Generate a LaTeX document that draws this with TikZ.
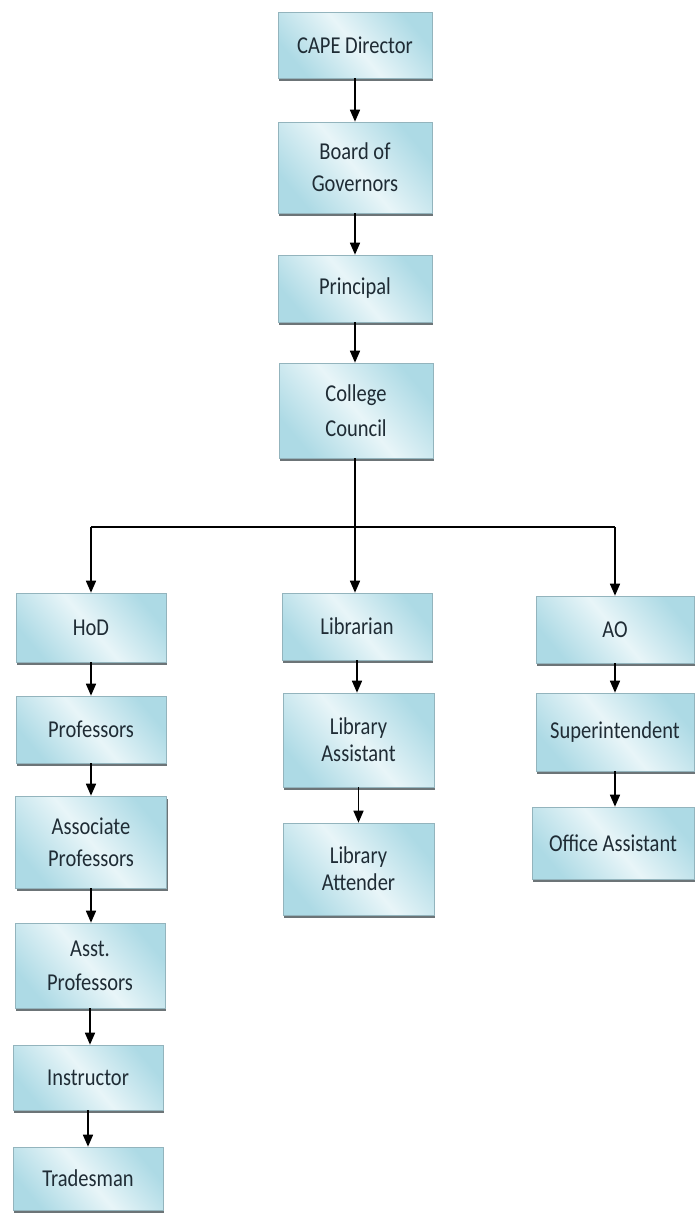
\documentclass[tikz,border=0pt]{standalone}
\usepackage{fontspec}
\setmainfont{Carlito}
\usetikzlibrary{arrows.meta,shadows}
\definecolor{cA}{HTML}{ADDAE5}
\definecolor{cB}{HTML}{E8F5F8}
\definecolor{cEdge}{HTML}{93B4BD}
\definecolor{cShadow}{HTML}{6C7477}
\definecolor{cText}{HTML}{1F2C35}
\pgfdeclareverticalshading{boxshade}{100bp}{color(0bp)=(cA); color(25bp)=(cA); color(50bp)=(cB); color(75bp)=(cA); color(100bp)=(cA)}
\newcommand{\tl}[1]{\scalebox{1}[1.18]{#1}}
\tikzset{
  orgbox/.style={draw=cEdge, line width=0.6pt, shading=boxshade, shading angle=-50,
    minimum width=#1, inner sep=0pt, text=cText, align=center,
    font=\fontsize{20.5}{32}\selectfont,
    drop shadow={shadow xshift=1pt, shadow yshift=-3pt, fill=cShadow, opacity=1}},
  orgbox/.default=150pt,
  link/.style={line width=1.6pt, black, -{Triangle[length=12pt,width=10pt]}},
  trunk/.style={line width=1.6pt, black}
}
\begin{document}
\begin{tikzpicture}[x=1pt,y=1pt]
\useasboundingbox (0,0) rectangle (696,-1213);
% top chain
\node[orgbox=154pt, minimum height=66pt] (cape) at (355,-45) {\tl{CAPE Director}};
\node[orgbox=154pt, minimum height=91pt] (bog) at (355,-167.5) {\tl{Board of}\\\tl{Governors}};
\node[orgbox=154pt, minimum height=67pt] (prin) at (355,-288.5) {\tl{Principal}};
\node[orgbox=154pt, minimum height=95pt] (cc) at (356,-410.5) {\tl{College}\\[3pt]\tl{Council}};
% left column
\node[orgbox=150pt, minimum height=69pt] (hod) at (91,-627.5) {\tl{HoD}};
\node[orgbox=150pt, minimum height=67pt] (prof) at (91,-729.5) {\tl{Professors}};
\node[orgbox=151pt, minimum height=92pt] (assoc) at (91,-842) {\tl{Associate}\\\tl{Professors}};
\node[orgbox=150pt, minimum height=85pt] (asst) at (90,-965.5) {\tl{Asst.}\\[2pt]\tl{Professors}};
\node[orgbox=150pt, minimum height=65pt] (instr) at (88,-1077.5) {\tl{Instructor}};
\node[orgbox=150pt, minimum height=63pt] (trade) at (88,-1178.5) {\tl{Tradesman}};
% middle column
\node[orgbox=150pt, minimum height=67pt] (lib) at (357,-626.5) {\tl{Librarian}};
\node[orgbox=151pt, minimum height=94pt, font=\fontsize{20.5}{27}\selectfont] (libas) at (358.5,-740) {\tl{Library}\\\tl{Assistant}};
\node[orgbox=151pt, minimum height=92pt, font=\fontsize{20.5}{27}\selectfont] (libat) at (358.5,-869) {\tl{Library}\\\tl{Attender}};
% right column
\node[orgbox=158pt, minimum height=67pt] (ao) at (615,-629.5) {\tl{AO}};
\node[orgbox=158pt, minimum height=78pt] (sup) at (615,-732) {\tl{Superintendent}};
\node[orgbox=162pt, minimum height=72pt] (oa) at (613,-843) {\tl{Office Assistant}};
% junction
\coordinate (j) at (355,-527);
% connectors
\draw[link] (cape.south) -- (cape.south |- bog.north);
\draw[link] (bog.south) -- (bog.south |- prin.north);
\draw[link] (prin.south) -- (prin.south |- cc.north);
\draw[trunk] (cc.south -| j) -- (j);
\draw[trunk] (hod.north |- j) -- (ao.north |- j);
\draw[link] (hod.north |- j) -- (hod.north);
\draw[link] (j) -- (j |- lib.north);
\draw[link] (ao.north |- j) -- (ao.north);
\draw[link] (hod.south) -- (hod.south |- prof.north);
\draw[link] (prof.south) -- (prof.south |- assoc.north);
\draw[link] (assoc.south) -- (assoc.south |- asst.north);
\draw[link] (asst.south) -- (asst.south |- instr.north);
\draw[link] (instr.south) -- (instr.south |- trade.north);
\draw[link] (lib.south) -- (lib.south |- libas.north);
\draw[link] (libas.south) -- (libas.south |- libat.north);
\draw[link] (ao.south) -- (ao.south |- sup.north);
\draw[link] (sup.south) -- (sup.south |- oa.north);
\end{tikzpicture}
\end{document}
